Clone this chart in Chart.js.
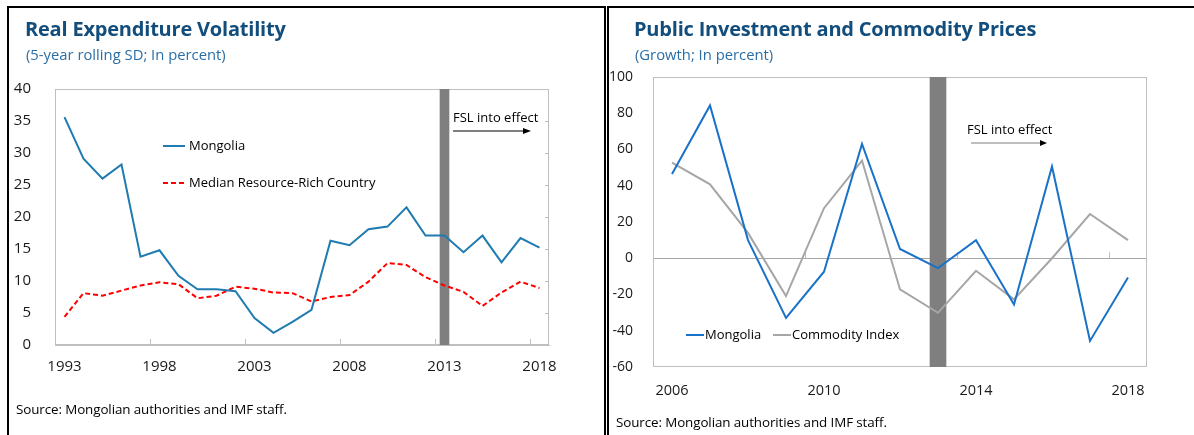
<!DOCTYPE html>
<html>
<head>
<meta charset="utf-8">
<title>Mongolia - expenditure volatility and public investment</title>
<script src="https://cdn.jsdelivr.net/npm/chart.js@4.4.1/dist/chart.umd.min.js"></script>
<style>
  body { margin: 0; width: 1194px; height: 435px; background: #fff; position: relative; overflow: hidden; font-family: 'Open Sans', sans-serif; }
  .panel { position: absolute; top: 6px; height: 440px; border-top: 2px solid #000; border-left: 2px solid #000; box-sizing: border-box; }
  canvas { position: absolute; top: 0; }
  .t { position: absolute; line-height: 1; white-space: nowrap; }
  .title { font-weight: bold; font-size: 20px; color: #124d7c; letter-spacing: -0.2px; }
  .sub { font-size: 14.8px; color: #2a6ea6; }
  .lg { font-size: 13px; color: #000; }
  .src { font-size: 13.4px; color: #000; letter-spacing: -0.1px; }
  svg { position: absolute; overflow: visible; }
</style>
</head>
<body>
<div class="panel" style="left:7px;width:599px;border-right:2px solid #000;"></div>
<div class="panel" style="left:607px;width:600px;"></div>

<canvas id="volChart" width="600" height="435" style="left:0"></canvas>
<canvas id="invChart" width="594" height="435" style="left:600px"></canvas>

<!-- left panel texts -->
<div class="t title" style="left:25px;top:19px">Real Expenditure Volatility</div>
<div class="t sub" style="left:26px;top:47.3px">(5-year rolling SD; In percent)</div>
<svg style="left:163px;top:146px" width="22" height="2"><line x1="0" y1="0" x2="22" y2="0" stroke="#1f7bb0" stroke-width="2"/></svg>
<div class="t lg" style="left:189px;top:139px">Mongolia</div>
<svg style="left:163px;top:183px" width="22" height="2"><line x1="0" y1="0" x2="22" y2="0" stroke="#ff0000" stroke-width="2" stroke-dasharray="5,3"/></svg>
<div class="t lg" style="left:189px;top:176px">Median Resource-Rich Country</div>
<div class="t lg" style="left:453px;top:111px">FSL into effect</div>
<svg style="left:453px;top:131px" width="78" height="2"><line x1="0" y1="0" x2="72" y2="0" stroke="#000" stroke-width="1.2"/><path d="M78,0 L70,-3 L70,3 Z" fill="#000"/></svg>
<div class="t src" style="left:16px;top:403px">Source: Mongolian authorities and IMF staff.</div>

<!-- right panel texts -->
<div class="t title" style="left:634px;top:19px">Public Investment and Commodity Prices</div>
<div class="t sub" style="left:635px;top:47.3px">(Growth; In percent)</div>
<svg style="left:686px;top:335px" width="18" height="2"><line x1="0" y1="0" x2="18" y2="0" stroke="#1a72c8" stroke-width="2"/></svg>
<div class="t lg" style="left:705px;top:328px">Mongolia</div>
<svg style="left:773px;top:335px" width="18" height="2"><line x1="0" y1="0" x2="18" y2="0" stroke="#a6a6a6" stroke-width="2"/></svg>
<div class="t lg" style="left:792px;top:328px">Commodity Index</div>
<div class="t lg" style="left:967px;top:123px">FSL into effect</div>
<svg style="left:971px;top:143px" width="76" height="2"><line x1="0" y1="0" x2="70" y2="0" stroke="#7f7f7f" stroke-width="1"/><path d="M76,0 L69,-3 L69,3 Z" fill="#000"/></svg>
<div class="t src" style="left:616px;top:416px">Source: Mongolian authorities and IMF staff.</div>

<script>
// Left chart: 5-year rolling SD of real expenditure, percent
const volYears = ['1993', '1994', '1995', '1996', '1997', '1998', '1999', '2000', '2001', '2002', '2003', '2004', '2005',
                  '2006', '2007', '2008', '2009', '2010', '2011', '2012', '2013', '2014', '2015', '2016', '2017', '2018'];
const mongoliaVol = [35.6, 29.1, 26.0, 28.2, 13.8, 14.8, 10.8, 8.7, 8.7, 8.4, 4.2, 1.9, 3.6,
                     5.5, 16.3, 15.6, 18.1, 18.5, 21.5, 17.1, 17.1, 14.5, 17.1, 12.9, 16.7, 15.2];
const medianVol = [4.4, 8.1, 7.7, 8.5, 9.3, 9.8, 9.5, 7.3, 7.7, 9.1, 8.8, 8.2, 8.1,
                   6.8, 7.5, 7.8, 9.9, 12.8, 12.5, 10.6, 9.3, 8.3, 6.1, 8.2, 9.9, 8.9];
const volTicks = { min: 0, max: 40, step: 5 };

// Right chart: growth, percent
const invYears = ['2006', '2007', '2008', '2009', '2010', '2011', '2012', '2013', '2014', '2015', '2016', '2017', '2018'];
const mongoliaInv = [46.5, 84.3, 10.0, -32.9, -7.4, 63.1, 5.1, -5.4, 9.9, -25.5, 50.6, -45.6, -10.6];
const commodityIdx = [52.8, 40.8, 14.0, -20.9, 27.6, 53.9, -17.2, -30.1, -6.9, -22.7, 0.0, 24.4, 10.0];
const invTicks = { min: -60, max: 100, step: 20 };

// year the fiscal stability law took effect (grey band)
const fslYear = '2013';

// plot frame + Excel style inward tick marks
const framePlugin = {
    id: 'frame',
    beforeDatasetsDraw(chart, args, opts) {
        const { ctx, chartArea: a, scales: { x, y } } = chart;
        ctx.save();
        ctx.strokeStyle = '#bfbfbf';
        ctx.lineWidth = 1;
        ctx.strokeRect(Math.round(a.left) + 0.5, Math.round(a.top) + 0.5, Math.round(a.width) - 1, Math.round(a.height) - 1);
        const base = opts.tickAt === undefined ? a.bottom : y.getPixelForValue(opts.tickAt);
        const half = (x.getPixelForValue(1) - x.getPixelForValue(0)) / 2;
        ctx.beginPath();
        x.ticks.forEach((t, i) => {
            if (i > 0 && i % opts.every === 0) {
                const px = Math.round(x.getPixelForValue(i) - half) + 0.5;
                ctx.moveTo(px, base);
                ctx.lineTo(px, base - 6);
            }
        });
        if (opts.rightTicks) {
            y.ticks.forEach(t => {
                const py = Math.round(y.getPixelForValue(t.value)) + 0.5;
                ctx.moveTo(a.right, py);
                ctx.lineTo(a.right - 4, py);
            });
        }
        ctx.stroke();
        ctx.restore();
    }
};

const tickFont = { family: "'Open Sans', sans-serif", size: 15 };

new Chart(document.getElementById('volChart'), {
    type: 'line',
    data: {
        labels: volYears,
        datasets: [
            {
                label: 'Mongolia',
                data: mongoliaVol,
                borderColor: '#1f7bb0',
                borderWidth: 2,
                pointRadius: 0,
                order: 0
            },
            {
                label: 'Median Resource-Rich Country',
                data: medianVol,
                borderColor: '#ff0000',
                borderWidth: 2,
                borderDash: [5, 3],
                pointRadius: 0,
                order: 1
            },
            {
                type: 'bar',
                label: 'FSL',
                data: volYears.map(y => y === fslYear ? volTicks.max : null),
                backgroundColor: '#7f7f7f',
                barThickness: 9,
                order: 2
            }
        ]
    },
    options: {
        responsive: false,
        animation: false,
        layout: { padding: { left: 0, right: 51, top: 89, bottom: 0 } },
        plugins: {
            legend: { display: false },
            tooltip: { enabled: false },
            frame: { every: 5, rightTicks: true }
        },
        scales: {
            x: {
                offset: true,
                grid: { display: false },
                border: { display: true, color: '#bfbfbf' },
                ticks: {
                    autoSkip: false,
                    maxRotation: 0,
                    padding: 5,
                    color: '#1a1a1a',
                    font: tickFont,
                    callback: (v, i) => (i % 5 === 0 ? volYears[i] : '')
                },
                afterFit: s => { s.height = 90; }
            },
            y: {
                min: volTicks.min,
                max: volTicks.max,
                grid: { display: false },
                border: { display: true, color: '#bfbfbf' },
                ticks: { stepSize: volTicks.step, padding: 16, color: '#1a1a1a', font: tickFont },
                afterFit: s => { s.width = 55; }
            }
        }
    },
    plugins: [framePlugin]
});

new Chart(document.getElementById('invChart'), {
    type: 'line',
    data: {
        labels: invYears,
        datasets: [
            {
                label: 'Mongolia',
                data: mongoliaInv,
                borderColor: '#1a72c8',
                borderWidth: 2,
                pointRadius: 0,
                order: 0
            },
            {
                label: 'Commodity Index',
                data: commodityIdx,
                borderColor: '#a6a6a6',
                borderWidth: 2,
                pointRadius: 0,
                order: 1
            },
            {
                type: 'bar',
                label: 'FSL',
                data: invYears.map(y => y === fslYear ? [invTicks.min, invTicks.max] : null),
                backgroundColor: '#7f7f7f',
                barThickness: 16,
                order: 2
            }
        ]
    },
    options: {
        responsive: false,
        animation: false,
        layout: { padding: { left: 0, right: 47, top: 77, bottom: 0 } },
        plugins: {
            legend: { display: false },
            tooltip: { enabled: false },
            frame: { every: 4, tickAt: 0 }
        },
        scales: {
            x: {
                offset: true,
                grid: { display: false },
                border: { display: false },
                ticks: {
                    autoSkip: false,
                    maxRotation: 0,
                    padding: 7,
                    color: '#1a1a1a',
                    font: { family: "'Open Sans', sans-serif", size: 14.5 },
                    callback: (v, i) => (i % 4 === 0 ? invYears[i] : '')
                },
                afterFit: s => { s.height = 68; }
            },
            y: {
                min: invTicks.min,
                max: invTicks.max,
                grid: {
                    drawTicks: false,
                    color: c => (c.tick && c.tick.value === 0 ? '#a6a6a6' : 'rgba(0,0,0,0)')
                },
                border: { display: false },
                ticks: { stepSize: invTicks.step, padding: 20, color: '#1a1a1a', font: { family: "'Open Sans', sans-serif", size: 14 } },
                afterFit: s => { s.width = 53; }
            }
        }
    },
    plugins: [framePlugin]
});
</script>
</body>
</html>
